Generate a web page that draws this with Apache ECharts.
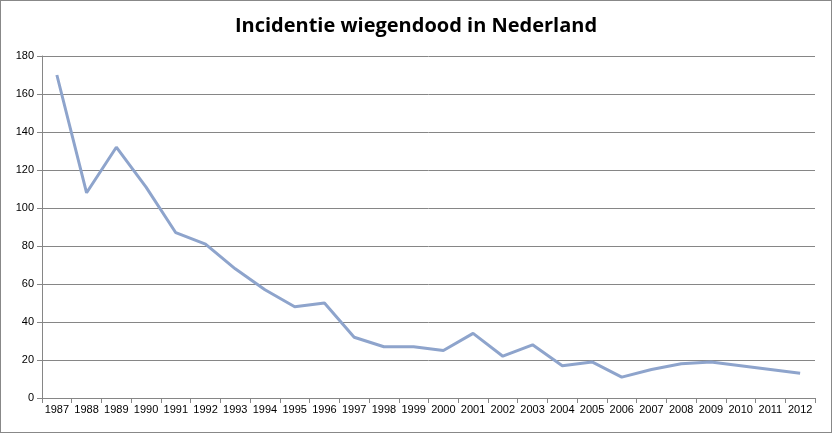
<!DOCTYPE html>
<html>
<head>
<meta charset="utf-8">
<script src="https://cdn.jsdelivr.net/npm/echarts@6/dist/echarts.min.js"></script>
<style>
  html, body { margin: 0; padding: 0; background: #fff; }
  #chart { width: 830px; height: 431px; border: 1px solid #888; }
</style>
</head>
<body>
<div id="chart"></div>
<script>
var years = ['1987','1988','1989','1990','1991','1992','1993','1994','1995','1996','1997','1998','1999',
             '2000','2001','2002','2003','2004','2005','2006','2007','2008','2009','2010','2011','2012'];
var incidentie = [170, 108, 132, 111, 87, 81, 68, 57, 48, 50, 32, 27, 27,
                  25, 34, 22, 28, 17, 19, 11, 15, 18, 19, 17, 15, 13];

var chart = echarts.init(document.getElementById('chart'));
chart.setOption({
    animation: false,
    title: {
        text: 'Incidentie wiegendood in Nederland',
        left: 'center',
        top: 10,
        textStyle: { fontFamily: 'Open Sans', fontWeight: 'bold', fontSize: 20, color: '#000' }
    },
    grid: { left: 41, right: 16, top: 55, bottom: 34 },
    xAxis: {
        type: 'category',
        data: years,
        boundaryGap: true,
        axisLine: { lineStyle: { color: '#868686' } },
        axisTick: { show: true, alignWithLabel: false, lineStyle: { color: '#868686' } },
        axisLabel: { color: '#000', fontSize: 11, fontFamily: 'Liberation Sans', interval: 0, margin: 6 }
    },
    yAxis: {
        type: 'value',
        min: 0, max: 180, interval: 20,
        axisLine: { show: true, lineStyle: { color: '#868686' } },
        axisTick: { show: true, lineStyle: { color: '#868686' } },
        axisLabel: { color: '#000', fontSize: 11, fontFamily: 'Liberation Sans' },
        splitLine: { lineStyle: { color: '#868686' } }
    },
    series: [{
        type: 'line',
        data: incidentie,
        symbol: 'none',
        lineStyle: { color: '#8ea4cc', width: 3 }
    }]
});
</script>
</body>
</html>
